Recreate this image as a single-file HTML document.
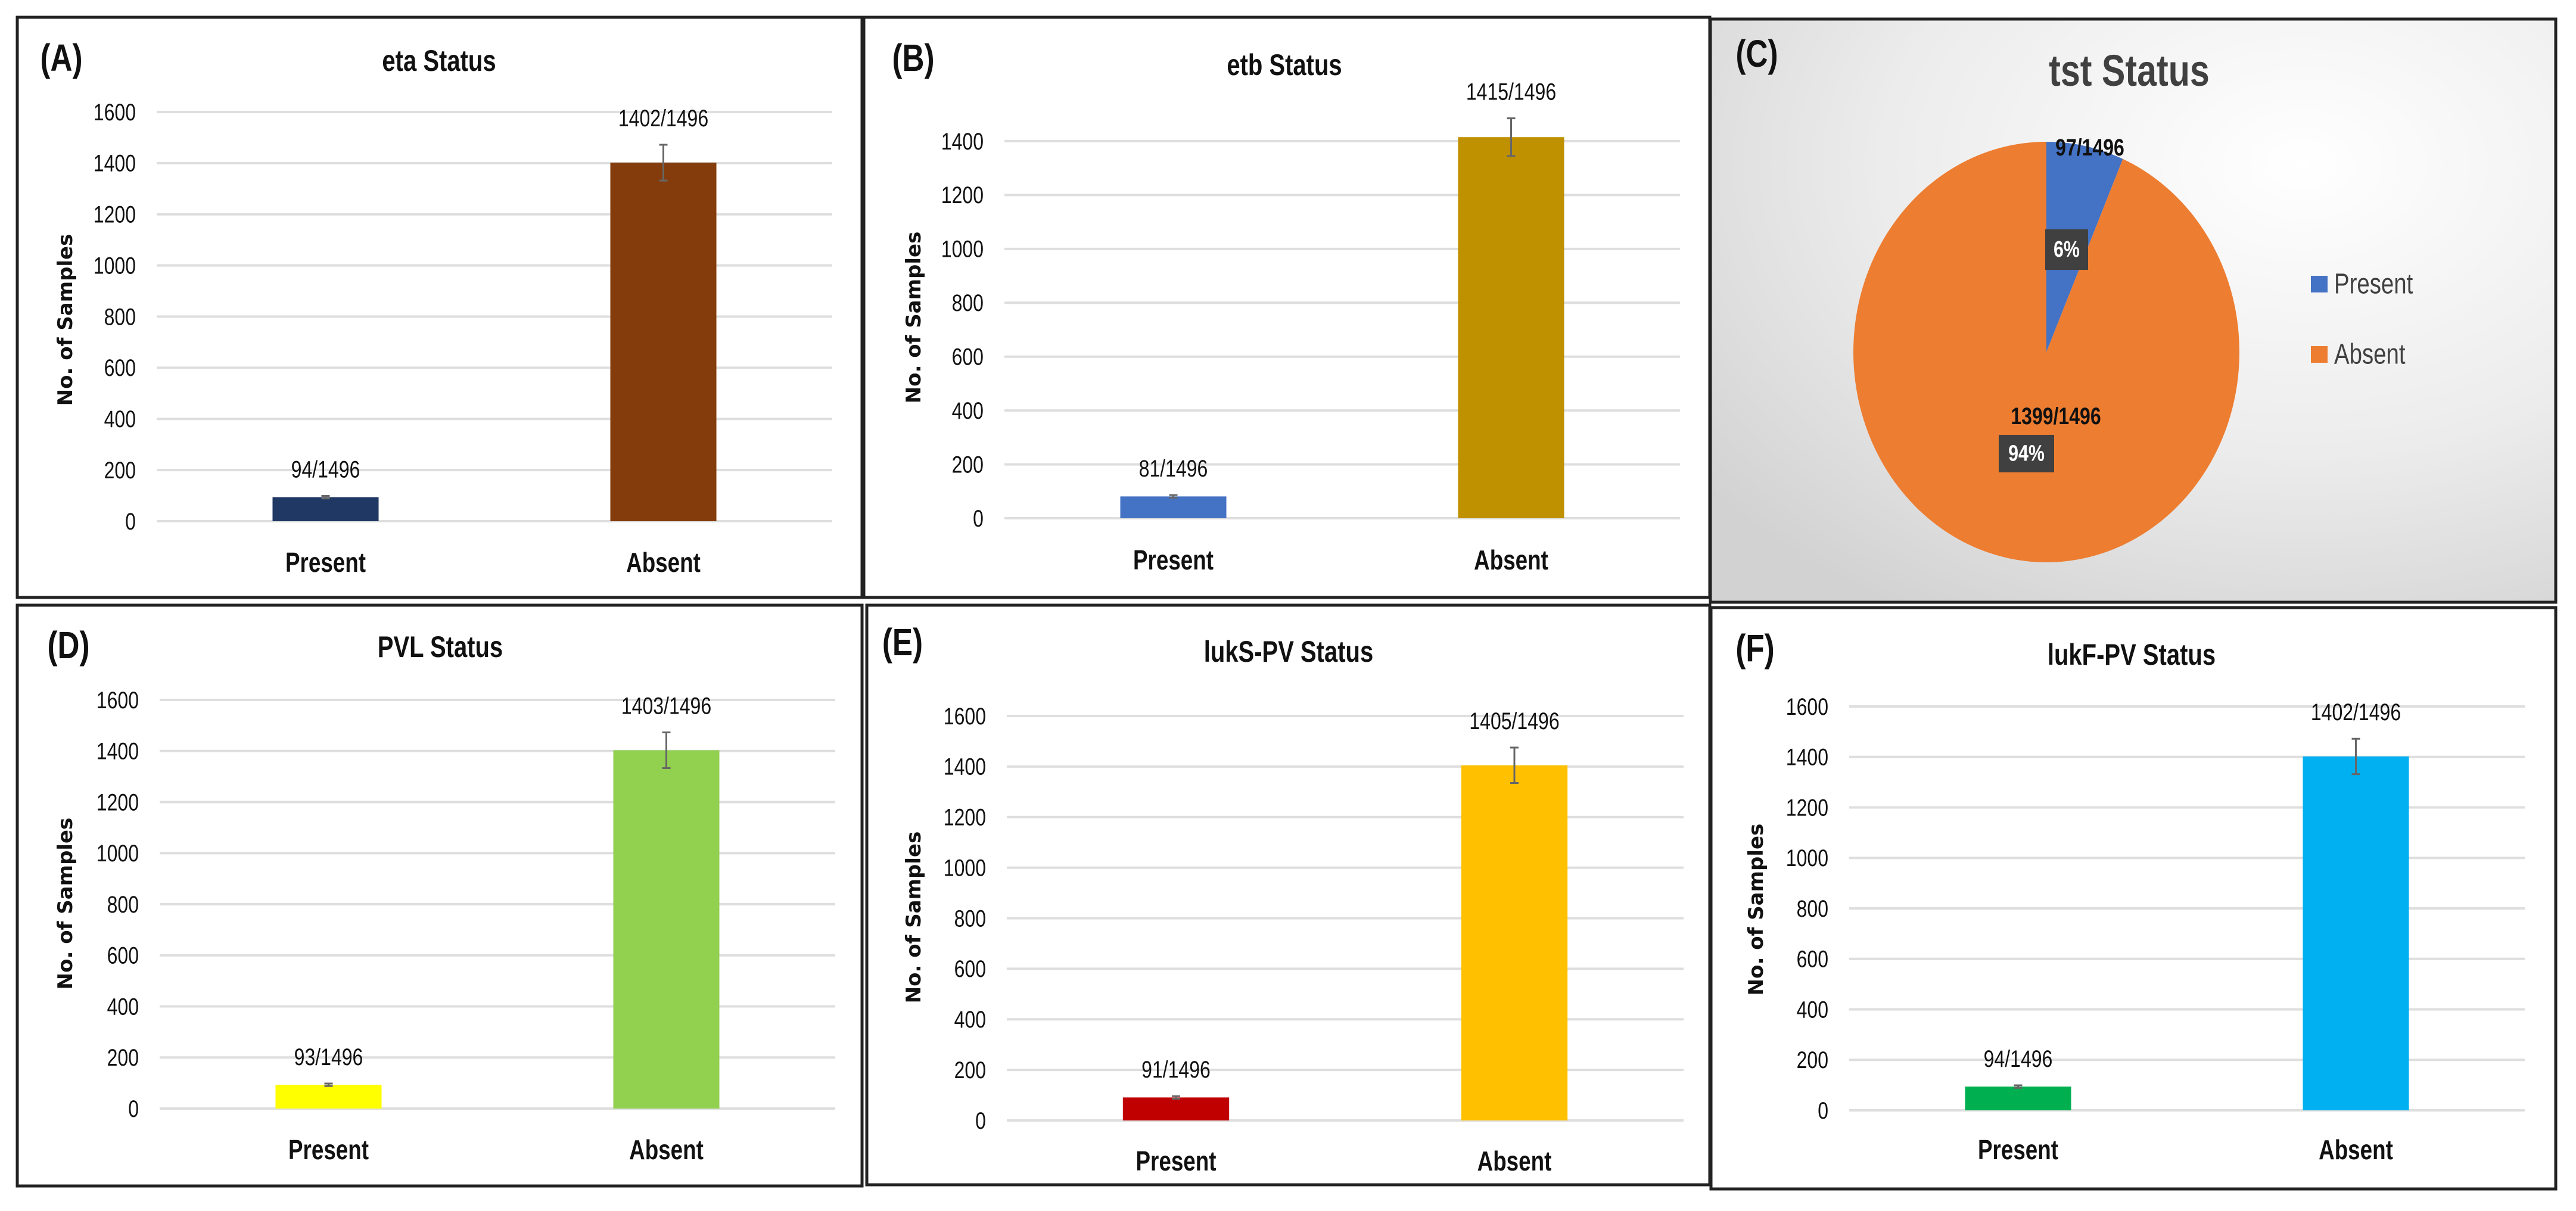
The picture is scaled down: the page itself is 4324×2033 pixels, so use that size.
<!DOCTYPE html>
<html><head><meta charset="utf-8"><style>
html,body{margin:0;padding:0;background:#fff;}
svg{display:block;}
text{font-family:"Liberation Sans Narrow","Liberation Sans",sans-serif;fill:#111;}
.yt{font-family:"DejaVu Sans","Liberation Sans",sans-serif;font-weight:bold;}
</style></head><body>
<svg id="fig" width="4324" height="2033" viewBox="0 0 4324 2033" xmlns="http://www.w3.org/2000/svg">
<defs>
<radialGradient id="cbg" cx="0.7" cy="0.25" r="0.9">
<stop offset="0" stop-color="#ffffff"/><stop offset="0.55" stop-color="#ececec"/><stop offset="1" stop-color="#d2d2d2"/>
</radialGradient>
</defs>
</svg>
<script>
const categories = ["Present", "Absent"];
const etaValues = [94, 1402];
const etbValues = [81, 1415];
const pvlValues = [93, 1403];
const luksValues = [91, 1405];
const lukfValues = [94, 1402];
const errValues = [5, 70];
const etaLabels = ["94/1496", "1402/1496"];
const etbLabels = ["81/1496", "1415/1496"];
const pvlLabels = ["93/1496", "1403/1496"];
const luksLabels = ["91/1496", "1405/1496"];
const lukfLabels = ["94/1496", "1402/1496"];
const ticks1600 = [0, 200, 400, 600, 800, 1000, 1200, 1400, 1600];
const ticks1400 = [0, 200, 400, 600, 800, 1000, 1200, 1400];
const tstCategories = ["Present", "Absent"];
const tstValues = [97, 1399];
const tstLabels = ["97/1496", "1399/1496"];
const tstPercents = ["6%", "94%"];

const NS = "http://www.w3.org/2000/svg";
const svg = document.getElementById("fig");
const SX = 0.8;
function mk(tag, attrs, parent) {
  const e = document.createElementNS(NS, tag);
  for (const k in attrs) e.setAttribute(k, attrs[k]);
  (parent || svg).appendChild(e);
  return e;
}
function txt(attrs, parent) {
  const x = attrs.x, y = attrs.y;
  attrs.transform = "translate(" + x + " " + y + ") scale(" + SX + " 1) translate(" + (-x) + " " + (-y) + ")";
  return mk("text", attrs, parent);
}

function barPanel(p) {
  const g = mk("g", {});
  
  
  const box = mk("rect", {x:p.bx, y:p.by, width:p.bw, height:p.bh, fill:"#fff", stroke:"#222", "stroke-width":5}, g);
  
  
  const lab = txt({x:p.lx, y:p.ly, "font-size":64, "font-weight":"bold", "text-anchor":"middle", "dominant-baseline":"central"}, g);
  lab.textContent = p.letter;
  
  
  const t = txt({x:p.tx, y:p.ty, "font-size":50, "font-weight":"bold", "text-anchor":"middle", "dominant-baseline":"central"}, g);
  t.textContent = p.title;
  
  
  const maxV = p.ticks[p.ticks.length - 1];
  const y = v => p.y0 - (v / maxV) * (p.y0 - p.yTop);
  const x = i => p.x0 + (p.x1 - p.x0) * (i + 0.5) / categories.length;
  p.ticks.forEach(tv => {
    const gl = mk("line", {x1:p.x0, x2:p.x1, y1:y(tv), y2:y(tv), stroke:"#dedede", "stroke-width":4}, g);
    
    
    const tl = txt({x:p.x0 - 35, y:y(tv), "font-size":40, "text-anchor":"end", "dominant-baseline":"central"}, g);
    tl.textContent = tv;
    
    
  });
  const yt = mk("text", {x:p.ytx, y:p.yty, "font-size":34, "text-anchor":"middle", "dominant-baseline":"central", class:"yt", transform:"rotate(-90 " + p.ytx + " " + p.yty + ")"}, g);
  yt.textContent = "No. of Samples";
  
  
  const bw = (p.x1 - p.x0) * 0.157;
  categories.forEach((c, i) => {
    const v = p.values[i];
    const b = mk("rect", {x:x(i) - bw / 2, y:y(v), width:bw, height:p.y0 - y(v), fill:p.colors[i]}, g);
    
    
    const e = errValues[i];
    const eb = mk("path", {d:"M" + x(i) + " " + y(v + e) + "V" + y(v - e) + "M" + (x(i) - 7) + " " + y(v + e) + "h14M" + (x(i) - 7) + " " + y(v - e) + "h14", stroke:"#666", "stroke-width":3, fill:"none"}, g);
    
    
    const vl = txt({x:x(i), y:y(v + e) - 45, "font-size":40, "text-anchor":"middle", "dominant-baseline":"central"}, g);
    vl.textContent = p.labels[i];
    
    
    const cl = txt({x:x(i), y:p.cy, "font-size":46, "font-weight":"bold", "text-anchor":"middle", "dominant-baseline":"central"}, g);
    cl.textContent = c;
    
    
  });
}

barPanel({id:"eta", letter:"(A)", title:"eta Status", values:etaValues, labels:etaLabels, ticks:ticks1600, colors:["#203864","#843C0C"],
  bx:29, by:29, bw:1418, bh:974, lx:103, ly:98, tx:737, ty:102, x0:263, x1:1397, yTop:188, y0:875, ytx:110, yty:537, cy:944});
barPanel({id:"etb", letter:"(B)", title:"etb Status", values:etbValues, labels:etbLabels, ticks:ticks1400, colors:["#4472C4","#BF9000"],
  bx:1450, by:29, bw:1420, bh:974, lx:1533, ly:98, tx:2156, ty:109, x0:1686, x1:2820, yTop:237, y0:870, ytx:1534, yty:533, cy:940});
barPanel({id:"pvl", letter:"(D)", title:"PVL Status", values:pvlValues, labels:pvlLabels, ticks:ticks1600, colors:["#FFFF00","#92D050"],
  bx:29, by:1016, bw:1418, bh:975, lx:115, ly:1084, tx:739, ty:1086, x0:268, x1:1402, yTop:1175, y0:1861, ytx:110, yty:1517, cy:1930});
barPanel({id:"luks", letter:"(E)", title:"lukS-PV Status", values:luksValues, labels:luksLabels, ticks:ticks1600, colors:["#C00000","#FFC000"],
  bx:1455, by:1016, bw:1415, bh:973, lx:1515, ly:1079, tx:2163, ty:1094, x0:1690, x1:2826, yTop:1202, y0:1881, ytx:1534, yty:1540, cy:1949});
barPanel({id:"lukf", letter:"(F)", title:"lukF-PV Status", values:lukfValues, labels:lukfLabels, ticks:ticks1600, colors:["#00B050","#00B0F0"],
  bx:2872, by:1020, bw:1418, bh:976, lx:2946, ly:1089, tx:3578, ty:1099, x0:3104, x1:4238, yTop:1186, y0:1864, ytx:2948, yty:1527, cy:1930});

(function(){
  const g = mk("g", {});
  
  
  const box = mk("rect", {x:2871, y:32, width:1419, height:979, fill:"url(#cbg)", stroke:"#222", "stroke-width":5}, g);
  
  
  const lab = txt({x:2949, y:91, "font-size":64, "font-weight":"bold", "text-anchor":"middle", "dominant-baseline":"central"}, g);
  lab.textContent = "(C)";
  
  
  const t = txt({x:3574, y:119, "font-size":74, "font-weight":"bold", "text-anchor":"middle", "dominant-baseline":"central", style:"fill:#404040"}, g);
  t.textContent = "tst Status";
  
  
  const cx = 3435, cy = 591, rx = 324, ry = 353;
  const colors = ["#4472C4", "#ED7D31"];
  const total = tstValues.reduce((a, b) => a + b, 0);
  let a0 = 0;
  const pt = a => [cx + rx * Math.sin(a), cy - ry * Math.cos(a)];
  tstValues.forEach((v, i) => {
    const a1 = a0 + v / total * 2 * Math.PI;
    const p0 = pt(a0), p1 = pt(a1);
    const large = (a1 - a0) > Math.PI ? 1 : 0;
    const s = mk("path", {d:"M" + cx + " " + cy + "L" + p0[0] + " " + p0[1] + "A" + rx + " " + ry + " 0 " + large + " 1 " + p1[0] + " " + p1[1] + "Z", fill:colors[i]}, g);
    
    
    a0 = a1;
  });
  const lab1 = txt({x:3508, y:247, "font-size":40, "font-weight":"bold", "text-anchor":"middle", "dominant-baseline":"central"}, g);
  lab1.textContent = tstLabels[0];
  
  
  const lab2 = txt({x:3451, y:698, "font-size":40, "font-weight":"bold", "text-anchor":"middle", "dominant-baseline":"central"}, g);
  lab2.textContent = tstLabels[1];
  
  
  const boxes = [[3433, 385, 72, 68], [3355, 730, 93, 63]];
  boxes.forEach((b, i) => {
    const r = mk("rect", {x:b[0], y:b[1], width:b[2], height:b[3], fill:"#404040"}, g);
    
    
    const tx = txt({x:b[0] + b[2] / 2, y:b[1] + b[3] / 2, "font-size":38, "font-weight":"bold", "text-anchor":"middle", "dominant-baseline":"central", style:"fill:#fff"}, g);
    tx.textContent = tstPercents[i];
    
    
  });
  tstCategories.forEach((c, i) => {
    const yy = [477, 595][i];
    const sq = mk("rect", {x:3879, y:yy - 14, width:28, height:28, fill:colors[i]}, g);
    
    
    const lt = txt({x:3918, y:yy, "font-size":48, "text-anchor":"start", "dominant-baseline":"central", style:"fill:#404040"}, g);
    lt.textContent = c;
    
    
  });
})();
</script>
</body></html>
